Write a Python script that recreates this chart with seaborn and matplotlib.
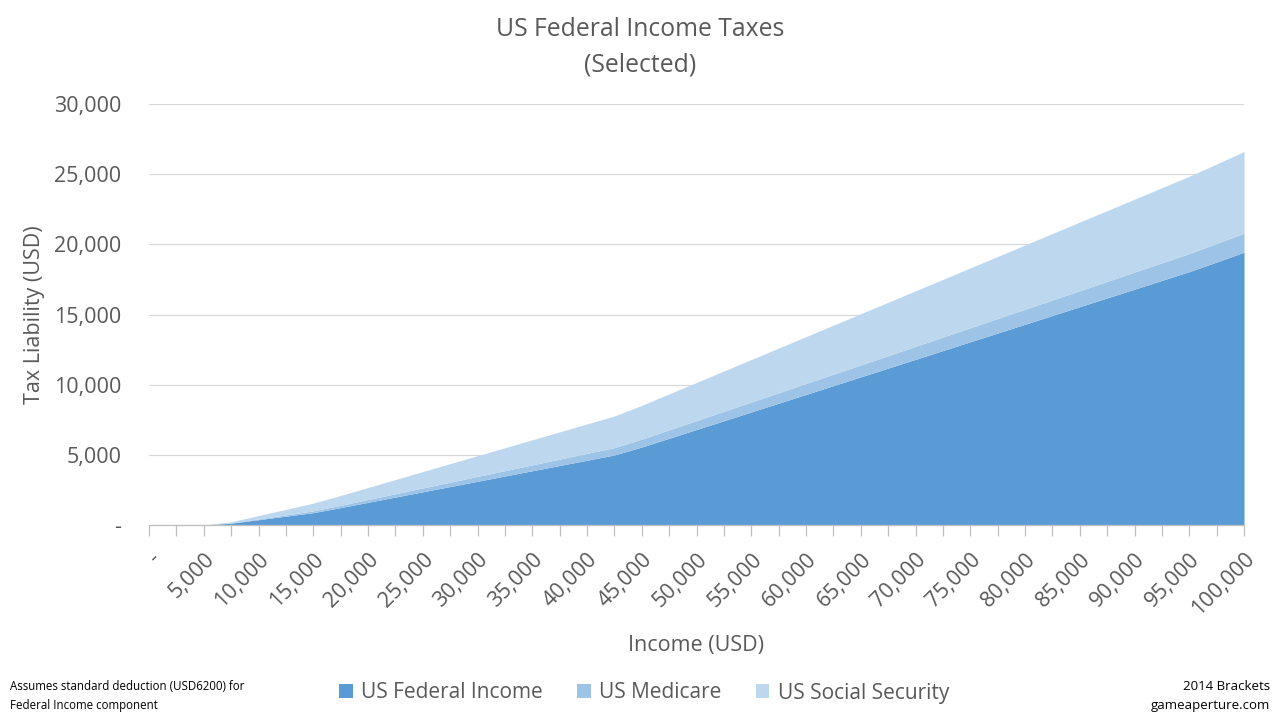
import matplotlib
matplotlib.use("Agg")
import matplotlib.pyplot as plt
from matplotlib.patches import Patch
import seaborn as sns

# income levels (USD), every 2,500
income = [0, 2500, 5000, 7500, 10000, 12500, 15000, 17500, 20000, 22500,
          25000, 27500, 30000, 32500, 35000, 37500, 40000, 42500, 45000, 47500,
          50000, 52500, 55000, 57500, 60000, 62500, 65000, 67500, 70000, 72500,
          75000, 77500, 80000, 82500, 85000, 87500, 90000, 92500, 95000, 97500,
          100000]

# tax amounts (USD)
federal = [0, 0, 0, 130, 380, 630, 880, 1241, 1616, 1991,
           2366, 2741, 3116, 3491, 3866, 4241, 4616, 4991, 5556, 6181,
           6806, 7431, 8056, 8681, 9306, 9931, 10556, 11181, 11806, 12431,
           13056, 13681, 14306, 14931, 15556, 16181, 16806, 17431, 18056, 18740,
           19440]
medicare = [0, 0, 0, 19, 55, 91, 128, 164, 200, 236,
            273, 309, 345, 381, 418, 454, 490, 526, 563, 599,
            635, 671, 708, 744, 780, 816, 853, 889, 925, 961,
            998, 1034, 1070, 1106, 1143, 1179, 1215, 1251, 1288, 1324,
            1360]
social_security = [0, 0, 0, 81, 236, 391, 546, 701, 856, 1011,
                   1166, 1321, 1476, 1631, 1786, 1941, 2096, 2251, 2406, 2561,
                   2716, 2871, 3026, 3181, 3336, 3491, 3646, 3801, 3956, 4111,
                   4266, 4421, 4576, 4731, 4886, 5041, 5196, 5351, 5506, 5661,
                   5816]

series_names = ["US Federal Income", "US Medicare", "US Social Security"]
colors = ["#5B9BD5", "#9DC3E6", "#BDD7EE"]
y_ticks = [0, 5000, 10000, 15000, 20000, 25000, 30000]

sns.set_style("white")
plt.rcParams["font.family"] = ["Open Sans", "DejaVu Sans"]
text_color = "#595959"

fig = plt.figure(figsize=(12.8, 7.2), dpi=100)
ax = fig.add_axes([149 / 1280, 1 - 525 / 720, (1244 - 149) / 1280, (525 - 104) / 720])

pos = list(range(len(income)))
ax.stackplot(pos, federal, medicare, social_security, colors=colors,
             labels=series_names, linewidth=0)

ax.set_xlim(0, len(income) - 1)
ax.set_ylim(0, 30000)

# gridlines
ax.set_yticks(y_ticks)
ax.yaxis.grid(True, color="#D9D9D9", linewidth=0.9)
ax.set_axisbelow(True)
ax.set_yticklabels(["-" if v == 0 else f"{v:,}" for v in y_ticks],
                   fontsize=15.5, color=text_color)
ax.tick_params(axis="y", length=0, pad=20)

# category x axis: tick mark at each point, label at every second one
ax.set_xticks(pos)
ax.set_xticklabels(["-" if v == 0 else (f"{v:,}" if v % 5000 == 0 else "")
                    for v in income],
                   rotation=45, ha="right", rotation_mode="anchor",
                   fontsize=15.5, color=text_color)
ax.tick_params(axis="x", bottom=True, length=8, width=0.9, color="#BFBFBF",
               direction="out", pad=9)

sns.despine(ax=ax, left=True, top=True, right=True)
ax.spines["bottom"].set_color("#BFBFBF")
ax.spines["bottom"].set_linewidth(0.9)

ax.set_ylabel("Tax Liability (USD)", fontsize=15.5, color=text_color)
ax.set_xlabel("Income (USD)", fontsize=15.5, color=text_color)
ax.yaxis.set_label_coords((35 - 149) / 1095, 0.5)
ax.xaxis.set_label_coords(0.5, (525 - 645) / 421)
ax.xaxis.label.set_va("center")
ax.yaxis.label.set_va("center")

fig.text(0.5, 1 - 29 / 720, "US Federal Income Taxes", ha="center", va="center",
         fontsize=17.8, color=text_color)
fig.text(0.5, 1 - 65 / 720, "(Selected)", ha="center", va="center",
         fontsize=17.8, color=text_color)

handles = [Patch(facecolor=c, edgecolor="none") for c in colors]
fig.legend(handles, series_names, loc="center", ncol=3,
           bbox_to_anchor=(644 / 1280, 1 - 693 / 720), frameon=False,
           fontsize=15, handlelength=0.65, handleheight=0.65, handletextpad=0.4,
           columnspacing=1.65, labelcolor=text_color)

fig.text(10 / 1280, 1 - 687 / 720, "Assumes standard deduction (USD6200) for",
         ha="left", va="center", fontsize=8.3, color="black")
fig.text(10 / 1280, 1 - 705 / 720, "Federal Income component",
         ha="left", va="center", fontsize=8.3, color="black")
fig.text(1270 / 1280, 1 - 687 / 720, "2014 Brackets",
         ha="right", va="center", fontsize=9.5, color="black")
fig.text(1270 / 1280, 1 - 705 / 720, "gameaperture.com",
         ha="right", va="center", fontsize=9.5, color="black")

fig.savefig("out.png", dpi=100)
